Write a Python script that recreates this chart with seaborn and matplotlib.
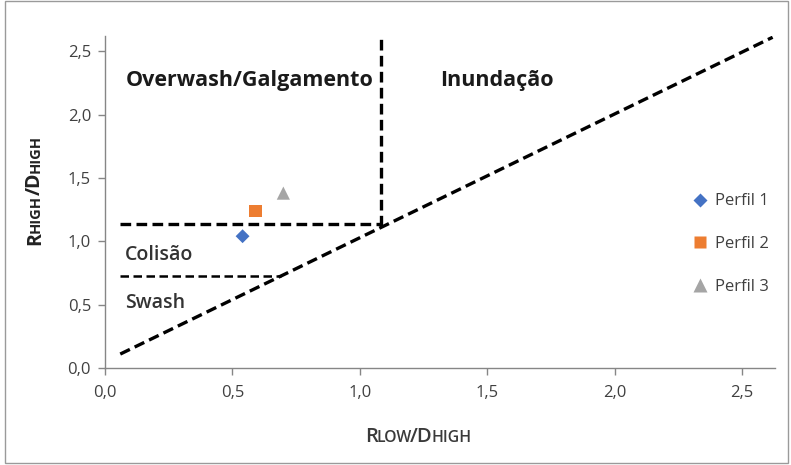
import matplotlib
matplotlib.use("Agg")
import matplotlib.pyplot as plt
import matplotlib.patches as mpatches
from matplotlib.ticker import FuncFormatter, MultipleLocator
import seaborn as sns
import pandas as pd

# ~~~ Data ~~~
perfis = ["Perfil 1", "Perfil 2", "Perfil 3"]
rlow_dhigh = [0.54, 0.59, 0.70]
rhigh_dhigh = [1.04, 1.24, 1.38]
cores = ["#4472C4", "#ED7D31", "#A5A5A5"]
marcadores = ["D", "s", "^"]
tamanhos = [50, 80, 90]

# limites entre regimes
diag_x = [0.06, 2.62]
diag_y = [0.11, 2.61]
vert_x = [1.085, 1.085]
vert_y = [1.12, 2.62]
colisao_x = [0.06, 1.085]
colisao_y = [1.135, 1.135]
swash_x = [0.06, 0.69]
swash_y = [0.725, 0.725]

regimes = ["Overwash/Galgamento", "Inundação", "Colisão", "Swash"]
regimes_x = [0.08, 1.317, 0.08, 0.08]
regimes_y = [2.224, 2.224, 0.852, 0.473]

sns.set_theme(style="white")
plt.rcParams["font.family"] = ["Open Sans", "DejaVu Sans"]

fig = plt.figure(figsize=(7.91, 4.65), dpi=100)
ax = fig.add_axes([0.1327, 0.2086, 0.8473, 0.714])

df = pd.DataFrame({"x": rlow_dhigh, "y": rhigh_dhigh, "perfil": perfis})
sns.scatterplot(
    data=df, x="x", y="y", hue="perfil", style="perfil",
    palette=dict(zip(perfis, cores)), markers=dict(zip(perfis, marcadores)),
    s=75, edgecolor="none", ax=ax, zorder=3, legend=True,
)
ax.collections[0].set_sizes(tamanhos)

line_kw = dict(color="black", lw=2.4, dashes=(3.2, 1.6))
ax.plot(diag_x, diag_y, **line_kw)
ax.plot(vert_x, vert_y, **line_kw)
ax.plot(colisao_x, colisao_y, **line_kw)
ax.plot(swash_x, swash_y, color="black", lw=1.8, dashes=(3.4, 1.8))

for i, (txt, tx, ty) in enumerate(zip(regimes, regimes_x, regimes_y)):
    ax.text(tx, ty, txt, fontsize=15.5 if i < 2 else 14, fontweight="bold" if i < 2 else "semibold",
            color="#1a1a1a" if i < 2 else "#333333", va="baseline", ha="left")

ax.set_xlim(0, 2.63)
ax.set_ylim(0, 2.62)
ax.xaxis.set_major_locator(MultipleLocator(0.5))
ax.yaxis.set_major_locator(MultipleLocator(0.5))
fmt = FuncFormatter(lambda v, p: f"{v:.1f}".replace(".", ","))
ax.xaxis.set_major_formatter(fmt)
ax.yaxis.set_major_formatter(fmt)
ax.tick_params(axis="both", direction="out", length=5, width=1, color="#868686",
               labelsize=12, labelcolor="#404040", bottom=True, left=True)
ax.tick_params(axis="x", pad=7)
ax.tick_params(axis="y", pad=5)
for s in ["top", "right"]:
    ax.spines[s].set_visible(False)
for s in ["left", "bottom"]:
    ax.spines[s].set_color("#868686")
    ax.spines[s].set_linewidth(1)
ax.set_xlabel("")
ax.set_ylabel("")

leg = ax.legend(loc="center left", bbox_to_anchor=(0.876, 0.373), frameon=False,
                fontsize=12, labelspacing=1.6, handlelength=1.0, handletextpad=0.35,
                borderpad=0, borderaxespad=0)
for t in leg.get_texts():
    t.set_color("#404040")
for h, sz in zip(leg.legend_handles, tamanhos):
    h.set_markersize(sz ** 0.5)

# ~~~ Axis labels in small caps (baseline aligned pieces) ~~~
fig.canvas.draw()
renderer = fig.canvas.get_renderer()
inv = fig.transFigure.inverted()
big, small = 14, 10.5

lab_kw = dict(color="#3a3a3a", fontweight="semibold")
x = 0.4614
for p, sz in [("R", big + 0.5), ("LOW", small + 0.8), ("/D", big + 0.5), ("HIGH", small + 0.8)]:
    t = fig.text(x, 0.0495, p, fontsize=sz, ha="left", va="baseline", **lab_kw)
    bb = t.get_window_extent(renderer)
    x = inv.transform((bb.x1 - 1.5, 0))[0]

lab_kw = dict(color="#222222", fontweight="bold")
y = 0.473
for p, sz in [("R", big), ("HIGH", small), ("/D", big), ("HIGH", small)]:
    t = fig.text(0.0506, y, p, fontsize=sz, ha="left", va="baseline", rotation=90,
                 rotation_mode="anchor", **lab_kw)
    bb = t.get_window_extent(renderer)
    y = inv.transform((0, bb.y1 - 0.5))[1]

# moldura da figura
fig.patches.append(mpatches.Rectangle((0.006, 0.004), 0.99, 0.994, transform=fig.transFigure,
                                      fill=False, edgecolor="#9a9a9a", lw=1))

fig.savefig("out.png", dpi=100)
